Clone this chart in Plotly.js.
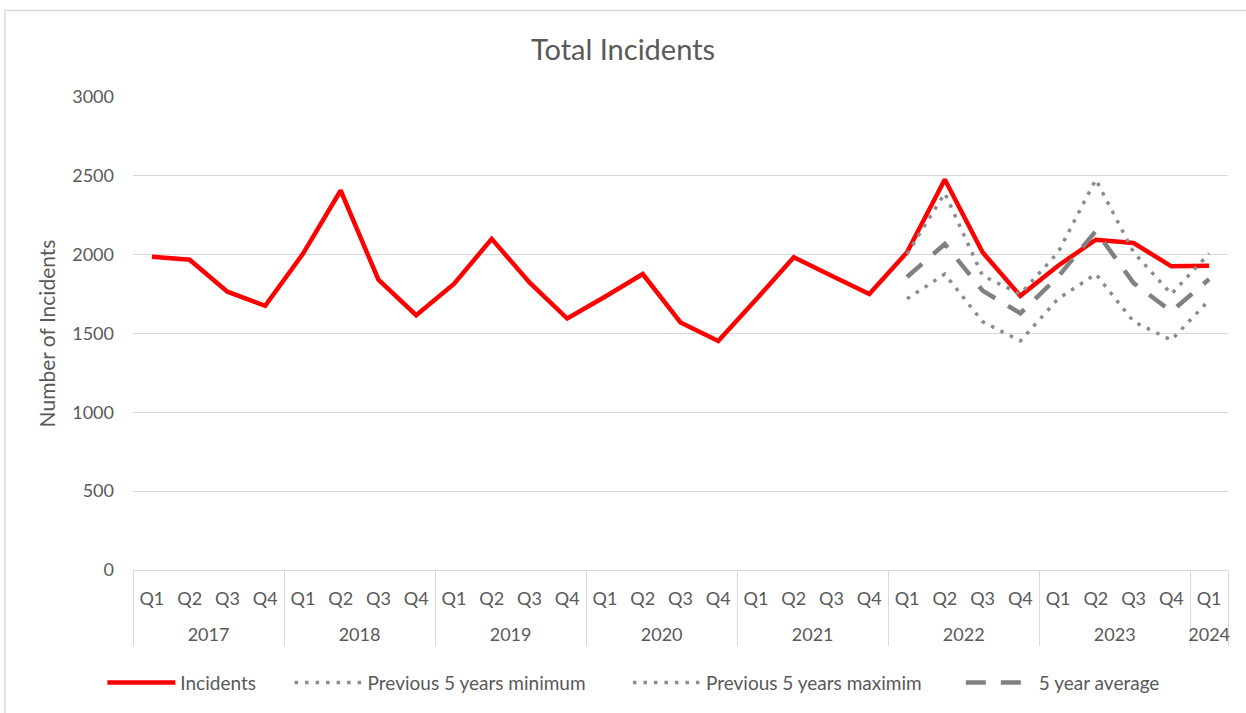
<!DOCTYPE html>
<html>
<head>
<meta charset="utf-8">
<script src="https://cdn.plot.ly/plotly-3.0.1.min.js"></script>
<style>
html,body{margin:0;padding:0;background:#fff;}
#chart{width:1246px;height:713px;}
</style>
</head>
<body>
<div id="chart"></div>
<script>
// Category labels (two-level axis: year / quarter)
const yearLabels = [
  '2017','2017','2017','2017',
  '2018','2018','2018','2018',
  '2019','2019','2019','2019',
  '2020','2020','2020','2020',
  '2021','2021','2021','2021',
  '2022','2022','2022','2022',
  '2023','2023','2023','2023',
  '2024'
];
const quarterLabels = [
  'Q1','Q2','Q3','Q4','Q1','Q2','Q3','Q4','Q1','Q2','Q3','Q4',
  'Q1','Q2','Q3','Q4','Q1','Q2','Q3','Q4','Q1','Q2','Q3','Q4',
  'Q1','Q2','Q3','Q4','Q1'
];

// Incidents per quarter (2017 Q1 .. 2024 Q1)
const incidents = [
  1987, 1968, 1765, 1676,
  2005, 2407, 1841, 1616,
  1814, 2100, 1824, 1595,
  1733, 1877, 1570, 1453,
  1716, 1983, 1866, 1750,
  2015, 2477, 2015, 1739,
  1930, 2095, 2074, 1926,
  1930
];

// Comparison series, 2022 Q1 .. 2024 Q1
const prevMin = [1720, 1877, 1575, 1453, 1720, 1877, 1575, 1458, 1712];
const prevMax = [2005, 2390, 1866, 1750, 2015, 2477, 2015, 1750, 2008];
const avg5yr  = [1858, 2068, 1772, 1628, 1860, 2150, 1820, 1640, 1845];

const cmpStart = 20;
// second (blank) line in the quarter labels leaves room before the year row
const qRow = quarterLabels.map(q => q + '<br><span style="font-size:24px"> </span>');
const allX = [yearLabels, qRow];
const cmpX = [yearLabels.slice(cmpStart), qRow.slice(cmpStart)];

const FONT = 'Lato, "Open Sans", sans-serif';
const TXT = '#595959';
const GRID = '#D9D9D9';

const traces = [
  {
    name: 'Incidents',
    x: allX, y: incidents,
    type: 'scatter', mode: 'lines',
    line: {color: '#FF0000', width: 4.5},
    legend: 'legend'
  },
  {
    name: 'Previous 5 years minimum',
    x: cmpX, y: prevMin,
    type: 'scatter', mode: 'lines',
    line: {color: '#8C8C8C', width: 3.5, dash: '3.5px,7px'},
    legend: 'legend2'
  },
  {
    name: 'Previous 5 years maximim',
    x: cmpX, y: prevMax,
    type: 'scatter', mode: 'lines',
    line: {color: '#8C8C8C', width: 3.5, dash: '3.5px,7px'},
    legend: 'legend3'
  },
  {
    name: '5 year average',
    x: cmpX, y: avg5yr,
    type: 'scatter', mode: 'lines',
    line: {color: '#808080', width: 4.5, dash: '20px,15px'},
    legend: 'legend4'
  }
];

function leg(xp) {
  return {
    orientation: 'h', x: xp, xanchor: 'left',
    y: -0.238, yanchor: 'middle',
    font: {family: FONT, size: 19, color: TXT},
    itemwidth: 68, bgcolor: 'rgba(0,0,0,0)'
  };
}

const layout = {
  width: 1246, height: 713,
  paper_bgcolor: '#fff', plot_bgcolor: '#fff',
  font: {family: FONT, color: TXT, size: 18},
  margin: {l: 133, r: 18, t: 97, b: 141},
  title: {
    text: 'Total Incidents',
    font: {family: FONT, size: 29, color: TXT},
    x: 0.5, xanchor: 'center', y: 0.93, yanchor: 'middle'
  },
  showlegend: true,
  legend: leg(-0.028),
  legend2: leg(0.143),
  legend3: leg(0.452),
  legend4: leg(0.756),
  xaxis: {
    type: 'multicategory',
    range: [-0.5, 28.5],
    automargin: false,
    showgrid: false,
    showline: true, linecolor: GRID, linewidth: 1,
    ticks: '', ticklabelstandoff: 12,
    tickfont: {family: FONT, size: 18, color: TXT},
    showdividers: true, dividercolor: GRID, dividerwidth: 1,
    zeroline: false
  },
  yaxis: {
    range: [0, 3000],
    automargin: false,
    tickvals: [0, 500, 1000, 1500, 2000, 2500, 3000],
    showgrid: true, gridcolor: GRID, gridwidth: 1,
    zeroline: false, showline: false,
    ticks: '', ticklabelstandoff: 18,
    tickfont: {family: FONT, size: 18, color: TXT},
    title: {text: 'Number of Incidents', font: {family: FONT, size: 21, color: TXT}, standoff: 10}
  },
  shapes: [
    {type: 'rect', xref: 'paper', yref: 'paper',
     x0: -0.117, x1: 1.05, y0: -0.4, y1: 1.183,
     line: {color: GRID, width: 1.5}, fillcolor: 'rgba(0,0,0,0)', layer: 'below'}
  ]
};

Plotly.newPlot('chart', traces, layout, {displayModeBar: false, staticPlot: true});
</script>
</body>
</html>
